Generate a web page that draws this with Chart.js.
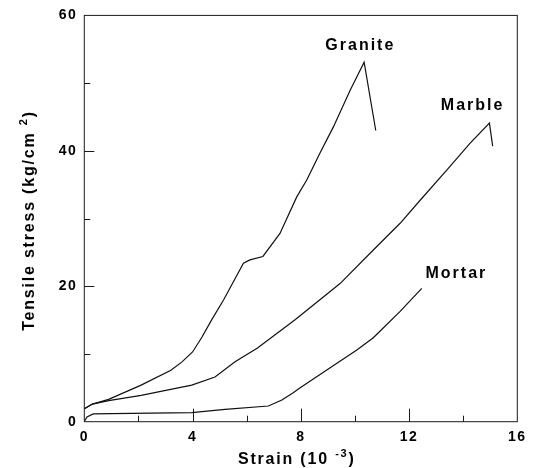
<!DOCTYPE html>
<html><head><meta charset="utf-8">
<script src="https://cdn.jsdelivr.net/npm/chart.js@4.4.1/dist/chart.umd.min.js"></script>
<style>html,body{margin:0;padding:0;background:#fff}</style>
</head><body>
<canvas id="c" width="535" height="468" style="width:535px;height:468px;display:block"></canvas>
<script>
// ---- data (strain in 10^-3, stress in kg/cm^2) ----
const graniteStrain = [0, 0.3, 0.9, 2.1, 3.2, 3.6, 4.0, 4.35, 4.7, 5.15, 5.88, 6.12, 6.6, 7.23, 7.85, 8.22, 8.7, 9.2, 9.82, 10.34, 10.77];
const graniteStress = [1.9, 2.6, 3.3, 5.4, 7.6, 8.8, 10.3, 12.5, 15.0, 18.0, 23.4, 23.9, 24.4, 27.8, 33.2, 35.7, 39.6, 43.5, 48.9, 53.1, 43.0];
const marbleStrain = [0, 0.3, 0.9, 2.1, 3.1, 3.97, 4.83, 5.57, 6.4, 7.8, 9.45, 10.68, 11.67, 12.41, 13.45, 14.25, 14.97, 15.09];
const marbleStress = [1.9, 2.6, 3.1, 3.9, 4.7, 5.4, 6.6, 8.85, 10.9, 15.1, 20.4, 25.35, 29.3, 32.7, 37.4, 41.1, 44.1, 40.7];
const mortarStrain = [0, 0.1, 0.33, 1.0, 3.97, 5.2, 6.8, 7.3, 7.72, 7.95, 8.96, 10.07, 10.68, 11.67, 12.47];
const mortarStress = [0.05, 0.7, 1.15, 1.2, 1.33, 1.83, 2.32, 3.2, 4.28, 4.93, 7.63, 10.58, 12.4, 16.3, 19.7];

const seriesNames = ['Granite', 'Marble', 'Mortar'];
const xTickLabels = [0, 4, 8, 12, 16];
const yTickLabels = [0, 20, 40, 60];
const xMajorTicks = [4, 8, 12];
const xMinorTicks = [2, 6, 10, 14];
const yMajorTicks = [20, 40];
const yMinorTicks = [10, 30, 50];

// label anchors (data coordinates)
const labelAnchors = { Granite: [10.2, 55.6], Marble: [14.35, 46.7], Mortar: [13.75, 21.9] };

const FONT = '"Liberation Sans", Arial, Helvetica, sans-serif';
const TICK_LS = '1.5px';
const pts = (xs, ys) => xs.map((x, i) => ({ x, y: ys[i] }));
const setLS = (ctx, v) => { if ('letterSpacing' in ctx) ctx.letterSpacing = v; };

const framePlugin = {
  id: 'frame',
  beforeUpdate(chart) { setLS(chart.ctx, TICK_LS); },
  beforeDraw(chart) { setLS(chart.ctx, TICK_LS); },
  afterDraw(chart) {
    const { ctx, chartArea: a, scales: { x, y } } = chart;
    ctx.save();
    ctx.strokeStyle = '#1a1a1a';
    ctx.lineWidth = 1;
    ctx.strokeRect(a.left, a.top, a.right - a.left, a.bottom - a.top);
    ctx.beginPath();
    xMajorTicks.forEach(v => { const px = Math.round(x.getPixelForValue(v)) + 0.5; ctx.moveTo(px, a.bottom); ctx.lineTo(px, a.bottom - 13); });
    xMinorTicks.forEach(v => { const px = Math.round(x.getPixelForValue(v)) + 0.5; ctx.moveTo(px, a.bottom); ctx.lineTo(px, a.bottom - 6); });
    yMajorTicks.forEach(v => { const py = Math.round(y.getPixelForValue(v)) + 0.5; ctx.moveTo(a.left, py); ctx.lineTo(a.left + 10, py); });
    yMinorTicks.forEach(v => { const py = Math.round(y.getPixelForValue(v)) + 0.5; ctx.moveTo(a.left, py); ctx.lineTo(a.left + 6, py); });
    ctx.stroke();

    // curve labels
    ctx.fillStyle = '#000';
    ctx.font = 'bold 16px ' + FONT;
    setLS(ctx, '2px');
    ctx.textAlign = 'center';
    ctx.textBaseline = 'middle';
    seriesNames.forEach(n => {
      const [vx, vy] = labelAnchors[n];
      ctx.fillText(n, x.getPixelForValue(vx), y.getPixelForValue(vy));
    });

    // axis titles with superscripts
    setLS(ctx, '1.8px');
    ctx.textAlign = 'left';
    ctx.textBaseline = 'alphabetic';
    const measure = (parts) => {
      let w = 0;
      parts.forEach(p => { ctx.font = 'bold ' + p.size + 'px ' + FONT; p.w = ctx.measureText(p.t).width; w += p.w; });
      return w;
    };
    const xParts = [{ t: 'Strain (10 ', size: 16, dy: 0 }, { t: '-3', size: 11, dy: -7 }, { t: ')', size: 16, dy: 0 }];
    let w = measure(xParts);
    let sx = (a.left + a.right) / 2 - 4 - w / 2;
    xParts.forEach(p => { ctx.font = 'bold ' + p.size + 'px ' + FONT; ctx.fillText(p.t, sx, 463.5 + p.dy); sx += p.w; });

    const yParts = [{ t: 'Tensile stress (kg/cm ', size: 16, dy: 0 }, { t: '2', size: 11, dy: -7 }, { t: ')', size: 16, dy: 0 }];
    w = measure(yParts);
    ctx.translate(33.5, (a.top + a.bottom) / 2 + 2);
    ctx.rotate(-Math.PI / 2);
    let sy = -w / 2;
    yParts.forEach(p => { ctx.font = 'bold ' + p.size + 'px ' + FONT; ctx.fillText(p.t, sy, p.dy); sy += p.w; });
    ctx.restore();
    setLS(ctx, TICK_LS);
  }
};

const lineStyle = { showLine: true, borderColor: '#111', borderWidth: 1.2, pointRadius: 0, tension: 0, fill: false };

new Chart(document.getElementById('c'), {
  type: 'scatter',
  data: {
    datasets: [
      Object.assign({ label: seriesNames[0], data: pts(graniteStrain, graniteStress) }, lineStyle),
      Object.assign({ label: seriesNames[1], data: pts(marbleStrain, marbleStress) }, lineStyle),
      Object.assign({ label: seriesNames[2], data: pts(mortarStrain, mortarStress) }, lineStyle)
    ]
  },
  options: {
    responsive: false,
    animation: false,
    devicePixelRatio: 1,
    layout: { padding: { top: 15, right: 17.7, left: 0, bottom: 0 } },
    plugins: { legend: { display: false }, tooltip: { enabled: false } },
    scales: {
      x: {
        type: 'linear', min: 0, max: 16,
        grid: { display: false, drawTicks: false },
        border: { display: false },
        afterBuildTicks(s) { s.ticks = xTickLabels.map(v => ({ value: v })); },
        ticks: { color: '#000', maxRotation: 0, padding: 7, font: { family: FONT, size: 14, weight: 'bold' } },
        afterFit(s) { s.height = 46.3; }
      },
      y: {
        type: 'linear', min: 0, max: 60,
        grid: { display: false, drawTicks: false },
        border: { display: false },
        afterBuildTicks(s) { s.ticks = yTickLabels.map(v => ({ value: v })); },
        ticks: { color: '#000', padding: 7, font: { family: FONT, size: 14, weight: 'bold' } },
        afterFit(s) { s.width = 84.3; }
      }
    }
  },
  plugins: [framePlugin]
});
</script>
</body></html>
